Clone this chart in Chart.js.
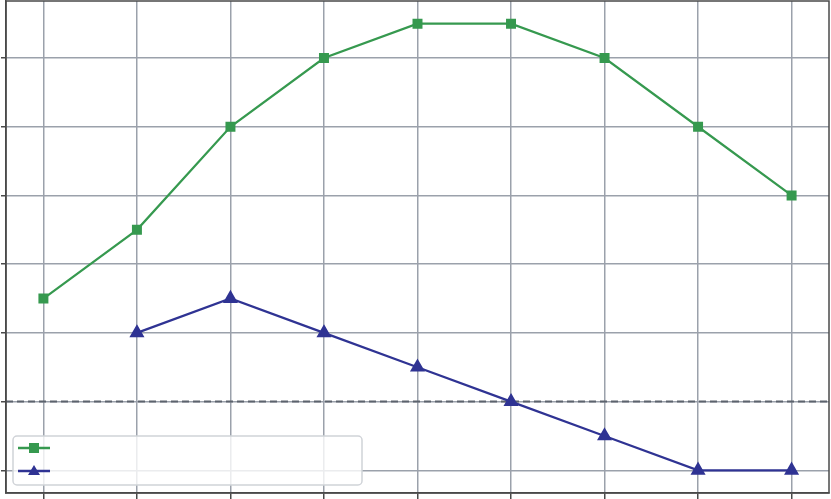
<!DOCTYPE html>
<html>
<head>
<meta charset="utf-8">
<script src="https://cdn.jsdelivr.net/npm/chart.js"></script>
<style>
  html, body { margin: 0; padding: 0; background: #fff; }
  #wrap { width: 831px; height: 499px; }
</style>
</head>
<body>
<div id="wrap"><canvas id="chart"></canvas></div>
<script>
const categories = [0, 1, 2, 3, 4, 5, 6, 7, 8];
const greenValues = [2.5, 3.5, 5, 6, 6.5, 6.5, 6, 5, 4];
const blueValues = [null, 2, 2.5, 2, 1.5, 1, 0.5, 0, 0];
const yTicks = [0, 1, 2, 3, 4, 5, 6];
const referenceLevel = 1;

const greenColor = '#36994f';
const blueColor = '#2f3393';
const gridColor = '#9ba1ab';
const spineColor = '#4a4a4a';

function toPoints(values) {
    return categories.map((c, i) => ({ x: c, y: values[i] }));
}

// spines on all four sides + dashed reference line + legend box
const framePlugin = {
    id: 'frame',
    beforeDatasetsDraw(chart) {
        const { ctx, chartArea: a, scales } = chart;
        const y = scales.y.getPixelForValue(referenceLevel);
        ctx.save();
        ctx.strokeStyle = '#5c636d';
        ctx.lineWidth = 2;
        ctx.setLineDash([7, 4]);
        ctx.beginPath();
        ctx.moveTo(a.left, y);
        ctx.lineTo(a.right, y);
        ctx.stroke();
        ctx.restore();
    },
    afterDraw(chart) {
        const { ctx, chartArea: a } = chart;
        ctx.save();
        ctx.strokeStyle = spineColor;
        ctx.lineWidth = 1.5;
        ctx.strokeRect(a.left, a.top, a.right - a.left, a.bottom - a.top);

        // legend
        const bx = a.left + 7, by = a.bottom - 57, bw = 349, bh = 49;
        ctx.fillStyle = 'rgba(255,255,255,0.8)';
        ctx.strokeStyle = '#d0d3d8';
        ctx.lineWidth = 1.5;
        ctx.beginPath();
        ctx.roundRect(bx, by, bw, bh, 4);
        ctx.fill();
        ctx.stroke();

        chart.data.datasets.forEach((ds, i) => {
            const ly = by + 12 + i * 23;
            ctx.strokeStyle = ds.borderColor;
            ctx.lineWidth = 2.5;
            ctx.beginPath();
            ctx.moveTo(bx + 5, ly);
            ctx.lineTo(bx + 37, ly);
            ctx.stroke();
            ctx.fillStyle = ds.pointBackgroundColor;
            if (ds.pointStyle === 'rect') {
                ctx.fillRect(bx + 16, ly - 5, 10, 10);
            } else {
                ctx.beginPath();
                ctx.moveTo(bx + 21, ly - 6);
                ctx.lineTo(bx + 27, ly + 4);
                ctx.lineTo(bx + 15, ly + 4);
                ctx.closePath();
                ctx.fill();
            }
        });
        ctx.restore();
    }
};

function keepTicks(list) {
    return function(scale) {
        scale.ticks = list.map(v => ({ value: v }));
    };
}

new Chart(document.getElementById('chart').getContext('2d'), {
    type: 'line',
    data: {
        datasets: [
            {
                data: toPoints(greenValues),
                borderColor: greenColor,
                backgroundColor: greenColor,
                pointBackgroundColor: greenColor,
                pointBorderColor: greenColor,
                pointStyle: 'rect',
                pointRadius: 5.5,
                borderWidth: 2.2,
                tension: 0
            },
            {
                data: toPoints(blueValues),
                borderColor: blueColor,
                backgroundColor: blueColor,
                pointBackgroundColor: blueColor,
                pointBorderColor: blueColor,
                pointStyle: 'triangle',
                pointRadius: 6.5,
                borderWidth: 2.2,
                tension: 0
            }
        ]
    },
    options: {
        responsive: true,
        maintainAspectRatio: false,
        animation: false,
        layout: { autoPadding: false, padding: { left: 1, top: 1, right: 2, bottom: 0 } },
        plugins: {
            legend: { display: false },
            tooltip: { enabled: false }
        },
        scales: {
            x: {
                type: 'linear',
                min: -0.4,
                max: 8.4,
                afterBuildTicks: keepTicks(categories),
                ticks: { display: false },
                grid: { color: gridColor, lineWidth: 1.5, tickLength: 6, tickColor: spineColor },
                border: { color: spineColor, width: 1.5 }
            },
            y: {
                min: -0.33,
                max: 6.83,
                afterBuildTicks: keepTicks(yTicks),
                ticks: { display: false },
                grid: { color: gridColor, lineWidth: 1.5, tickLength: 5, tickColor: spineColor },
                border: { color: spineColor, width: 1.5 }
            }
        }
    },
    plugins: [framePlugin]
});
</script>
</body>
</html>
